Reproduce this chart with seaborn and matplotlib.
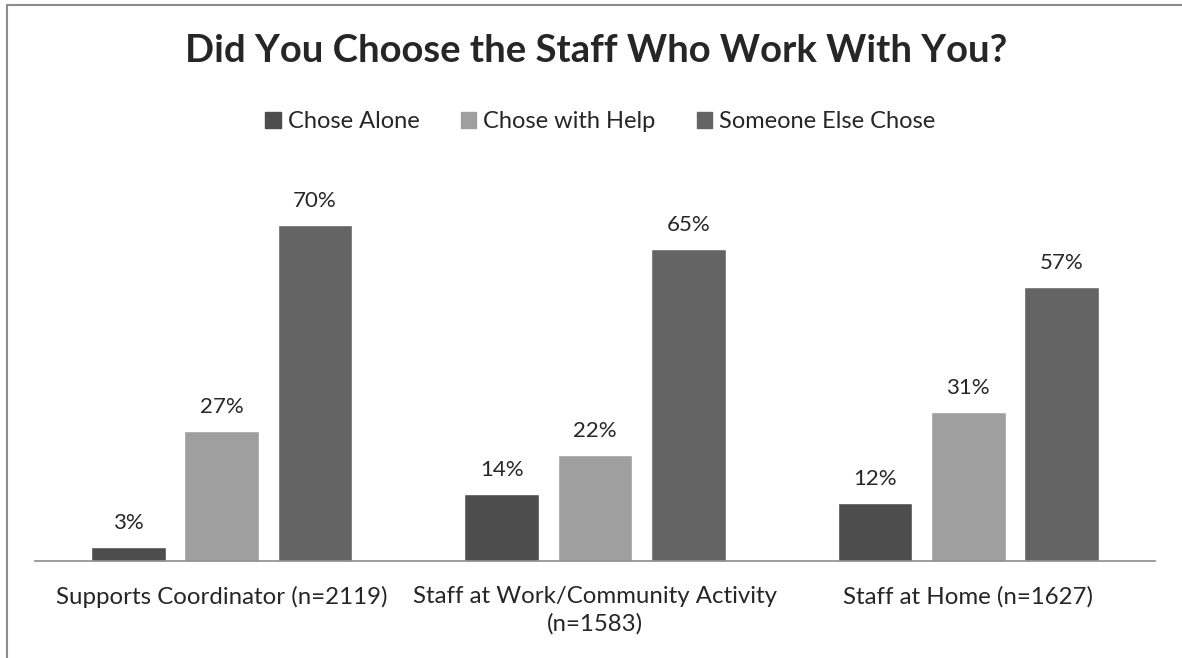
import pandas as pd
import matplotlib.pyplot as plt
import seaborn as sns
from matplotlib.lines import Line2D

categories = ["Supports Coordinator (n=2119)",
              "Staff at Work/Community Activity\n(n=1583)",
              "Staff at Home (n=1627)"]
series = ["Chose Alone", "Chose with Help", "Someone Else Chose"]
chose_alone = [3, 14, 12]
chose_with_help = [27, 22, 31]
someone_else = [70, 65, 57]

df = pd.DataFrame({
    "category": categories * 3,
    "series": [series[0]] * 3 + [series[1]] * 3 + [series[2]] * 3,
    "value": chose_alone + chose_with_help + someone_else,
})

sns.set_style("white")
plt.rcParams['font.family'] = ['Lato', 'DejaVu Sans']

colors = ["#4d4d4d", "#9f9f9f", "#646464"]

fig = plt.figure(figsize=(11.82, 6.58), dpi=100)
ax = fig.add_axes([0.0296, 0.1474, 0.9474, 0.584])

sns.barplot(data=df, x="category", y="value", hue="series", hue_order=series,
            palette=colors, width=0.75, gap=0.2, ax=ax, legend=False)

for cont in ax.containers:
    ax.bar_label(cont, labels=[f"{v:.0f}%" for v in cont.datavalues],
                 padding=10, fontsize=16)

ax.set_ylim(0, 80)
ax.set_xlim(-0.5, 2.5)
ax.set_xlabel("")
ax.set_ylabel("")
ax.set_yticks([])
ax.tick_params(axis="x", length=0, labelsize=17.3, pad=18)
for lbl in ax.get_xticklabels():
    lbl.set_linespacing(1.35)
for s in ["top", "right", "left"]:
    ax.spines[s].set_visible(False)
ax.spines["bottom"].set_color("#8c8c8c")
ax.spines["bottom"].set_linewidth(1.2)

fig.suptitle("Did You Choose the Staff Who Work With You?", fontsize=27.5,
             fontweight="bold", x=0.504, y=0.948)

handles = [plt.Rectangle((0, 0), 1, 1, color=c) for c in colors]
fig.legend(handles, series, loc="center", bbox_to_anchor=(0.508, 0.815), ncol=3,
           frameon=False, fontsize=17, handlelength=0.65, handleheight=0.65,
           handletextpad=0.3, columnspacing=1.75)

# frame lines (left and top edges)
fig.add_artist(Line2D([0.006, 0.006], [0, 0.993], transform=fig.transFigure,
                      color="#8c8c8c", lw=1.5))
fig.add_artist(Line2D([0.006, 1], [0.993, 0.993], transform=fig.transFigure,
                      color="#8c8c8c", lw=1.5))

fig.savefig("out.png", dpi=100)
